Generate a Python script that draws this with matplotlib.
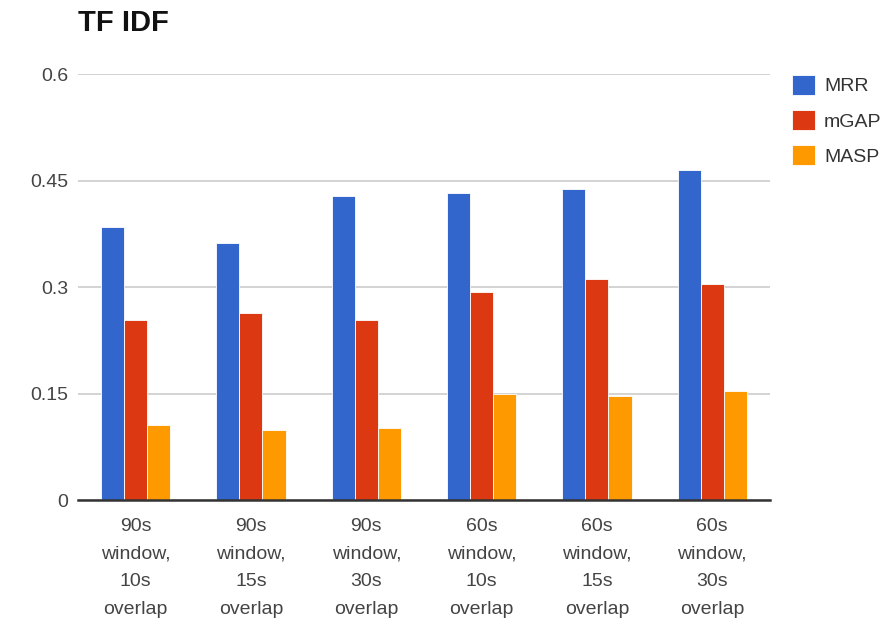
import numpy as np
import matplotlib.pyplot as plt

plt.rcParams['font.family'] = ['Liberation Sans', 'DejaVu Sans']

# values
categories = ["90s\nwindow,\n10s\noverlap", "90s\nwindow,\n15s\noverlap",
              "90s\nwindow,\n30s\noverlap", "60s\nwindow,\n10s\noverlap",
              "60s\nwindow,\n15s\noverlap", "60s\nwindow,\n30s\noverlap"]
mrr = [0.385, 0.362, 0.428, 0.433, 0.438, 0.465]
mgap = [0.254, 0.264, 0.254, 0.293, 0.312, 0.304]
masp = [0.106, 0.098, 0.101, 0.149, 0.146, 0.154]
yticks = [0, 0.15, 0.3, 0.45, 0.6]
ytick_labels = ["0", "0.15", "0.3", "0.45", "0.6"]

series = [("MRR", mrr, "#3366cc"), ("mGAP", mgap, "#dc3912"), ("MASP", masp, "#ff9900")]

fig = plt.figure(figsize=(8.9, 6.24), dpi=100)
ax = fig.add_axes([0.0876, 0.1987, 0.7775, 0.6823])

x = np.arange(len(categories))
w = 0.2
for i, (name, vals, col) in enumerate(series):
    ax.bar(x + (i - 1) * w, vals, width=w, color=col, edgecolor="white",
           linewidth=0.6, label=name, zorder=3)

ax.set_xlim(-0.5, len(categories) - 0.5)
ax.set_ylim(0, 0.6)
ax.set_yticks(yticks)
ax.set_yticklabels(ytick_labels)
ax.set_xticks(x)
ax.set_xticklabels(categories, linespacing=1.82)
ax.tick_params(axis="both", length=0, labelsize=14, labelcolor="#444444")
ax.tick_params(axis="y", pad=7)
ax.tick_params(axis="x", pad=13)
ax.grid(axis="y", color="#cccccc", linewidth=1.2, zorder=0)
for s in ["top", "right", "left"]:
    ax.spines[s].set_visible(False)
ax.spines["bottom"].set_color("#333333")
ax.spines["bottom"].set_linewidth(1.8)
ax.spines["bottom"].set_zorder(4)

fig.text(0.0876, 0.963, "TF IDF", fontsize=21, fontweight="bold", va="center", ha="left",
         color="#111111")

ax.legend(loc="upper left", bbox_to_anchor=(0.87, 0.908), bbox_transform=fig.transFigure,
          frameon=False, fontsize=14, handlelength=1.2, handleheight=1.2,
          handletextpad=0.45, labelspacing=0.75, labelcolor="#333333")

fig.savefig("out.png", dpi=100)
